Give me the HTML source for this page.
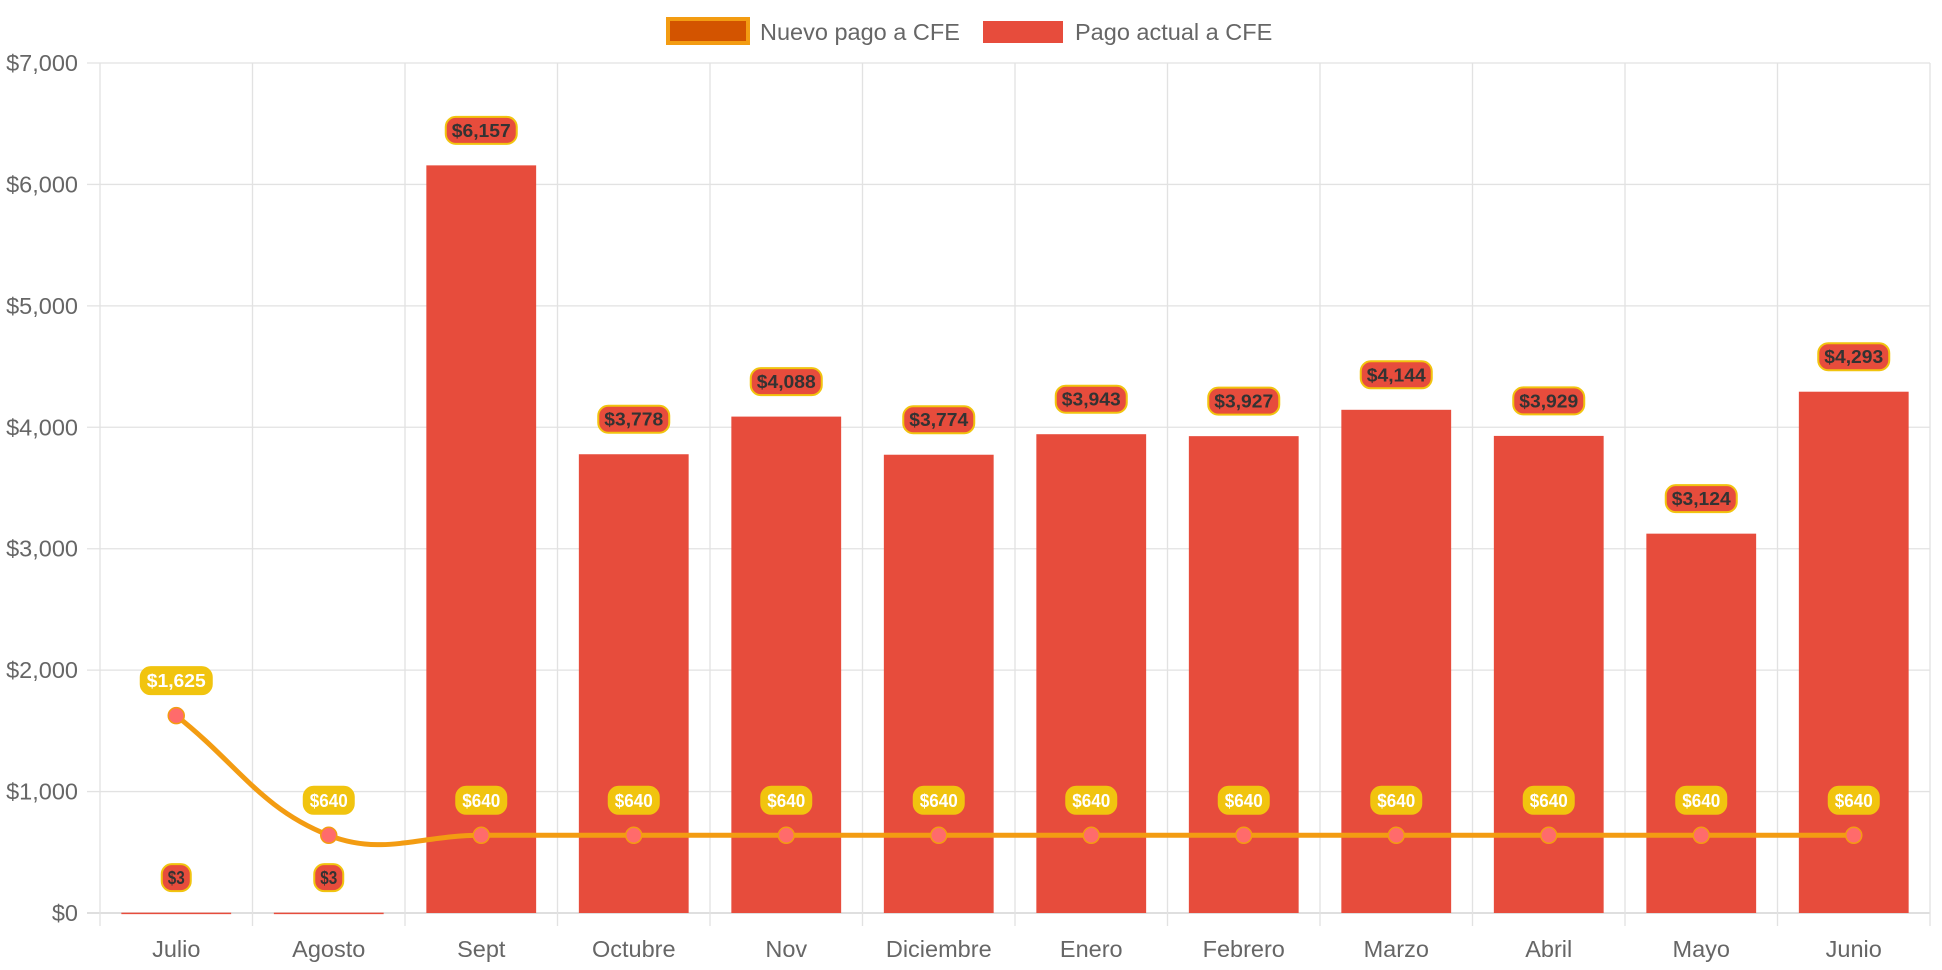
<!DOCTYPE html>
<html><head><meta charset="utf-8"><style>
body{margin:0;background:#fff;font-family:"Liberation Sans",Arial,sans-serif}
svg{display:block}
</style></head><body>
<svg id="chart" width="1942" height="970" xmlns="http://www.w3.org/2000/svg">
<g id="legend">
<g>
<rect x="668" y="19" width="80" height="24" fill="#d35400" stroke="#f39c12" stroke-width="4"/>
<text x="760" y="40" font-size="23.5" fill="#666">Nuevo pago a CFE</text></g>
<g>
<rect x="983" y="21" width="80" height="22" fill="#e74c3c"/>
<text x="1075" y="40" font-size="23.5" fill="#666">Pago actual a CFE</text></g>
</g>
<g id="grid"></g>
<g id="bars"></g>
<g id="line"></g>
<g id="labels"></g>
</svg>
<script>
const categories=["Julio","Agosto","Sept","Octubre","Nov","Diciembre","Enero","Febrero","Marzo","Abril","Mayo","Junio"];
const pagoActual=[3,3,6157,3778,4088,3774,3943,3927,4144,3929,3124,4293];
const nuevoPago=[1625,640,640,640,640,640,640,640,640,640,640,640];
const yTicks=[0,1000,2000,3000,4000,5000,6000,7000];
const NS="http://www.w3.org/2000/svg";
const L=100,R=1930,T=63,B=913,YMAX=7000;
const cw=(R-L)/categories.length;
const xC=i=>L+cw*(i+0.5);
const y=v=>B-(v/YMAX)*(B-T);
const fmt=v=>"$"+v.toLocaleString("en-US");
function mk(tag,attrs,parent){const e=document.createElementNS(NS,tag);for(const k in attrs)e.setAttribute(k,attrs[k]);parent.appendChild(e);return e;}
const grid=document.getElementById("grid");
yTicks.forEach(t=>{
 const g=mk("line",{x1:L-13,x2:R,y1:y(t),y2:y(t),stroke:t===0?"#ccc":"#e2e2e2","stroke-width":1.3},grid);
 
 
 const tx=mk("text",{x:L-22,y:y(t)+8,"text-anchor":"end","font-size":23.5,fill:"#666"},grid);
 tx.textContent=fmt(t);
 
 
});
for(let i=0;i<=categories.length;i++){
 const g=mk("line",{x1:L+cw*i,x2:L+cw*i,y1:T,y2:B+13,stroke:"#e2e2e2","stroke-width":1.3},grid);
 
 
}
categories.forEach((c,i)=>{
 const tx=mk("text",{x:xC(i),y:B+44,"text-anchor":"middle","font-size":23.5,fill:"#666"},grid);
 tx.textContent=c;
 
 
});
const bars=document.getElementById("bars"),labels=document.getElementById("labels");
const bw=cw*0.72;
function badge(cx,cy,text,fill,color){
 const w=text.length*10.5+8,h=27;
 const g=mk("g",{},labels);
 
 
 mk("rect",{x:cx-w/2,y:cy-h/2,width:w,height:h,rx:10,fill:fill,stroke:"#f1c40f","stroke-width":2},g);
 const t=mk("text",{x:cx,y:cy+6.5,"text-anchor":"middle","font-size":18.5,"font-weight":"bold",fill:color,textLength:w-12,lengthAdjust:"spacingAndGlyphs"},g);
 t.textContent=text;
}
pagoActual.forEach((v,i)=>{
 const r=mk("rect",{x:xC(i)-bw/2,y:y(v),width:bw,height:Math.max(1.5,B-y(v)),fill:"#e74c3c"},bars);
 
 
 badge(xC(i),y(v)-35,fmt(v),"#e74c3c","#333");
});
const pts=nuevoPago.map((v,i)=>({x:xC(i),y:y(v)}));
const tension=0.4;
function cps(p0,p1,p2){
 const d01=Math.hypot(p1.x-p0.x,p1.y-p0.y),d12=Math.hypot(p2.x-p1.x,p2.y-p1.y);
 let fa=d01/(d01+d12)||0,fb=d12/(d01+d12)||0;fa*=tension;fb*=tension;
 return{prev:{x:p1.x-fa*(p2.x-p0.x),y:p1.y-fa*(p2.y-p0.y)},next:{x:p1.x+fb*(p2.x-p0.x),y:p1.y+fb*(p2.y-p0.y)}};
}
const cp=pts.map((p,i)=>cps(pts[Math.max(0,i-1)],p,pts[Math.min(pts.length-1,i+1)]));
let d="M"+pts[0].x+","+pts[0].y;
for(let i=1;i<pts.length;i++){d+=" C"+cp[i-1].next.x+","+cp[i-1].next.y+" "+cp[i].prev.x+","+cp[i].prev.y+" "+pts[i].x+","+pts[i].y;}
const lineG=document.getElementById("line");
const path=mk("path",{d:d,fill:"none",stroke:"#f39c12","stroke-width":5},lineG);


pts.forEach((p,i)=>{
 const c=mk("circle",{cx:p.x,cy:p.y,r:8,fill:"#ff6b6b",stroke:"#f39c12","stroke-width":1.5},lineG);
 
 
 badge(p.x,p.y-35,fmt(nuevoPago[i]),"#f1c40f","#fff");
});
</script>
</body></html>
